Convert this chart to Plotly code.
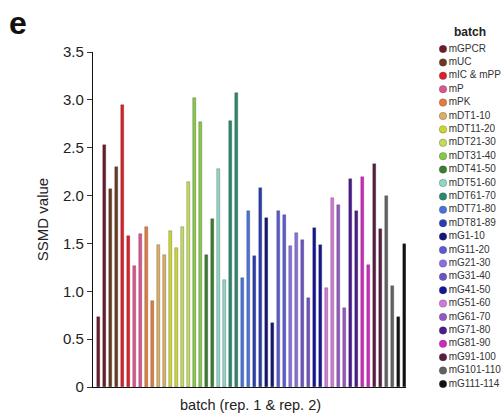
import plotly.graph_objects as go

batches = ["mGPCR", "mUC", "mIC & mPP", "mP", "mPK", "mDT1-10", "mDT11-20", "mDT21-30",
           "mDT31-40", "mDT41-50", "mDT51-60", "mDT61-70", "mDT71-80", "mDT81-89",
           "mG1-10", "mG11-20", "mG21-30", "mG31-40", "mG41-50", "mG51-60", "mG61-70",
           "mG71-80", "mG81-90", "mG91-100", "mG101-110", "mG111-114"]
batch_colors = ["#6b1b2c", "#6a3a1e", "#dc1f2b", "#dc5590", "#e57a3e", "#dcae62", "#cdd62e",
                "#c2dc5a", "#86c944", "#3a7f2e", "#8fd6c6", "#2a8a6e", "#4a72dc", "#2a3cb2",
                "#16167a", "#5a5ad6", "#8a6ee2", "#6e52c8", "#14149a", "#d477dc", "#9458c4",
                "#4a1a92", "#d228c0", "#5a1c42", "#626262", "#111111"]
rep1 = [0.73, 2.07, 2.95, 1.26, 1.67, 1.48, 1.63, 1.67, 3.02, 1.38, 2.28, 2.78, 1.14,
        1.37, 1.77, 1.84, 1.47, 1.54, 1.66, 1.03, 1.90, 2.17, 2.19, 2.33, 2.00, 0.73]
rep2 = [2.53, 2.30, 1.58, 1.60, 0.90, 1.38, 1.45, 2.14, 2.77, 1.76, 1.12, 3.07, 1.84,
        2.08, 0.67, 1.80, 1.61, 0.93, 1.48, 1.97, 0.83, 1.84, 1.27, 1.65, 1.06, 1.49]
y_ticks = [0, 0.5, 1.0, 1.5, 2.0, 2.5, 3.0, 3.5]
y_ticktext = ["0", "0.5", "1.0", "1.5", "2.0", "2.5", "3.0", "3.5"]

W, H = 504, 420
ML, MR, MT, MB = 93, 2, 10, 33
PW, PH = W - ML - MR, H - MT - MB


def px(x):
    return (x - ML) / PW


def py(y):
    return (H - MB - y) / PH


values, colors = [], []
for i in range(len(batches)):
    values += [rep1[i], rep2[i]]
    colors += [batch_colors[i]] * 2
xs = list(range(len(values)))

FONT = "Liberation Sans, Arial, sans-serif"
fig = go.Figure()
fig.add_trace(go.Bar(
    x=xs, y=values, marker=dict(color=colors, line=dict(color="rgba(40,40,40,0.55)", width=0.5)),
    width=0.45, showlegend=False, hoverinfo="y"))

# legend drawn on an auxiliary axis
LEG_TOP, LEG_STEP = 49.0, 13.4
fig.add_trace(go.Scatter(
    x=[0.0] * len(batches), y=list(range(len(batches))), mode="markers+text",
    marker=dict(size=7.5, color=batch_colors, line=dict(color="rgba(60,60,60,0.5)", width=0.6)),
    text=batches, textposition="middle right",
    textfont=dict(family=FONT, size=10, color="#333333"),
    xaxis="x2", yaxis="y2", showlegend=False, hoverinfo="skip", cliponaxis=False))

x_lo, x_hi = -0.9, 51.3
fig.update_layout(
    width=W, height=H, margin=dict(l=ML, r=MR, t=MT, b=MB),
    paper_bgcolor="white", plot_bgcolor="white",
    font=dict(family=FONT, color="#222222"),
    bargap=0,
    xaxis=dict(domain=[0, px(406)], range=[x_lo, x_hi], showticklabels=False, ticks="",
               showgrid=False, zeroline=False, showline=True, linecolor="#111111", linewidth=1.2,
               fixedrange=True),
    yaxis=dict(domain=[0, py(52)], range=[0, 3.5], tickvals=y_ticks, ticktext=y_ticktext,
               ticks="outside", ticklen=5, tickwidth=1, tickcolor="#333333",
               tickfont=dict(size=15, family=FONT, color="#222222"),
               showgrid=False, zeroline=False, showline=True, linecolor="#111111", linewidth=1.2,
               title=dict(text="SSMD value", font=dict(size=15, family=FONT, color="#222222"),
                          standoff=10)),
    xaxis2=dict(domain=[px(443), 1], range=[0, 1], visible=False, fixedrange=True),
    yaxis2=dict(domain=[0, 1],
                range=[(H - MB - LEG_TOP) / LEG_STEP, -(LEG_TOP - MT) / LEG_STEP],
                visible=False, anchor="x2", fixedrange=True),
    annotations=[
        dict(text="batch (rep. 1 & rep. 2)", x=px(250), y=py(405), xref="paper", yref="paper",
             showarrow=False, font=dict(size=14.5, family=FONT, color="#222222"),
             xanchor="center", yanchor="middle"),
        dict(text="<b>e</b>", x=px(7), y=py(23), xref="paper", yref="paper", showarrow=False,
             font=dict(size=32, family=FONT, color="#111111"), xanchor="left", yanchor="middle"),
        dict(text="<b>batch</b>", x=px(470), y=py(32), xref="paper", yref="paper",
             showarrow=False, font=dict(size=12, family=FONT, color="#222222"),
             xanchor="center", yanchor="middle"),
    ],
)
fig.write_html("out.html")
